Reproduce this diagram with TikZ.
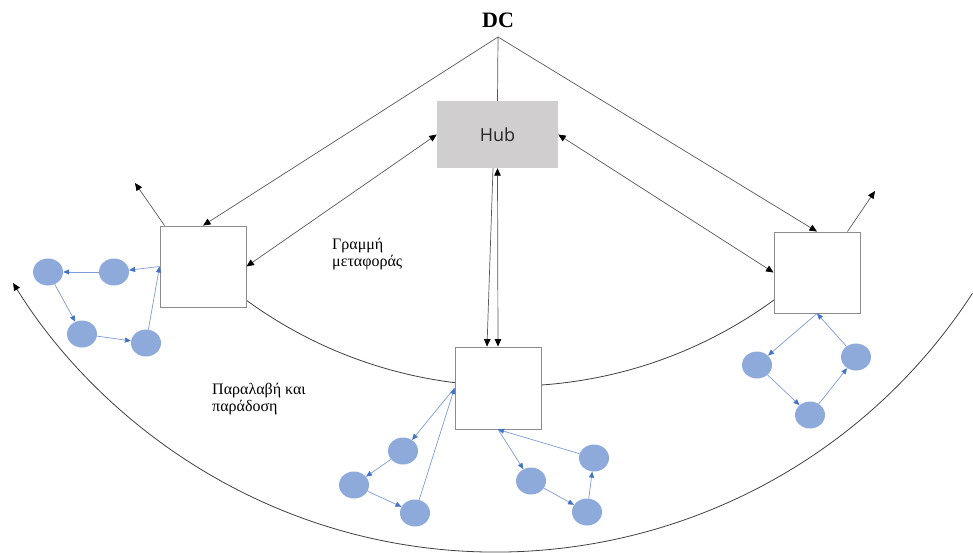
\documentclass[tikz,border=0pt]{standalone}
\usepackage{fontspec}
\setmainfont{Liberation Serif}
\newfontfamily\hubfont{Open Sans}
\usetikzlibrary{arrows.meta,shapes.geometric}
\definecolor{hubgray}{HTML}{D0CECE}
\definecolor{stopblue}{HTML}{8EAADB}
\definecolor{localline}{HTML}{7C9BD6}
\definecolor{localtip}{HTML}{4472C4}
\tikzset{
  blk/.tip={Triangle[length=7.5pt,width=6.5pt,color=black]},
  bluetip/.tip={Triangle[length=6pt,width=5pt,color=localtip]}
}
\begin{document}
\begin{tikzpicture}[x=1pt,y=1pt,
  station/.style={draw=black!45, line width=0.9pt, fill=white,
    minimum width=86pt, minimum height=81pt, inner sep=0},
  stop/.style={ellipse, fill=stopblue, minimum width=30pt,
    minimum height=27pt, inner sep=0},
  route/.style={draw=black!65, line width=0.7pt},
  local/.style={draw=localline, line width=0.7pt, -{bluetip}},
  ring/.style={draw=black!75, line width=0.8pt},
  label/.style={anchor=north west, align=left,
    font=\fontsize{16}{17}\selectfont, inner sep=0}
]
\useasboundingbox (0,0) rectangle (973,-553);

% delivery ring and the line haul arc
\draw[ring] (510,61.5) ++(232:447.6) arc[start angle=232, end angle=308, radius=447.6];
\draw[ring, -{blk}] (496,16) ++(327:568) arc[start angle=327, end angle=211.76, radius=568];

% distribution centre and hub
\node[font=\bfseries\fontsize{22}{24}\selectfont, inner sep=0] (dc) at (498,-20) {DC};
\coordinate (apex) at (498,-37);
\node[fill=hubgray, minimum width=121pt, minimum height=67pt, inner sep=0,
  font=\hubfont\fontsize{18}{20}\selectfont, text=black!85] (hub) at (497.5,-134.5) {Hub};

% local stations
\node[station] (lbox) at (203,-266.5) {};
\node[station] (rbox) at (817,-272.5) {};
\node[station, minimum height=82pt] (mbox) at (498,-388) {};

% trunk connections
\draw[route] (apex) -- (hub.north);
\draw[route, -{blk}] (apex) -- (lbox.north);
\draw[route, -{blk}] (apex) -- (rbox.north);
\draw[route, {blk}-{blk}] (hub.west) -- (lbox.east);
\draw[route, {blk}-{blk}] (hub.east) -- (rbox.west);
\draw[route, -{blk}] ([xshift=-4.5pt]hub.south) -- ([xshift=-11pt]mbox.north);
\draw[route, {blk}-{blk}] (hub.south) -- (mbox.north);

% outbound links
\coordinate (lout) at (135,-183);
\coordinate (rout) at (875,-191);
\draw[route, -{blk}] ([xshift=5pt]lbox.north west) -- (lout);
\draw[route, -{blk}] ([xshift=-13pt]rbox.north east) -- (rout);

% pickup and delivery stops
\node[stop] (l1) at (48,-272) {};
\node[stop] (l2) at (114,-272) {};
\node[stop] (l3) at (82,-334) {};
\node[stop] (l4) at (146,-343) {};
\node[stop] (ma) at (403,-451) {};
\node[stop] (mb) at (354,-485) {};
\node[stop] (mc) at (415,-513) {};
\node[stop] (md) at (531,-481) {};
\node[stop] (me) at (587,-512) {};
\node[stop] (mf) at (594,-458) {};
\node[stop] (rg) at (757,-365) {};
\node[stop] (rh) at (810,-415) {};
\node[stop] (ri) at (856,-357) {};

\draw[local] (lbox.west) -- (l2);
\draw[local] (l2) -- (l1);
\draw[local] (l1) -- (l3);
\draw[local] (l3) -- (l4);
\draw[local] (l4) -- (lbox.west);

\draw[local] (mbox.west) -- (ma);
\draw[local] (ma) -- (mb);
\draw[local] (mb) -- (mc);
\draw[local] (mc) -- (mbox.west);
\draw[local] (mbox.south) -- (md);
\draw[local] (md) -- (me);
\draw[local] (me) -- (mf);
\draw[local] (mf) -- (mbox.south);

\draw[local] (rbox.south) -- (rg);
\draw[local] (rg) -- (rh);
\draw[local] (rh) -- (ri);
\draw[local] (ri) -- (rbox.south);

% labels
\node[label] (lh) at (332,-238) {Γραμμή\\μεταφοράς};
\node[label] (pd) at (212,-383) {Παραλαβή και\\παράδοση};
\end{tikzpicture}
\end{document}
